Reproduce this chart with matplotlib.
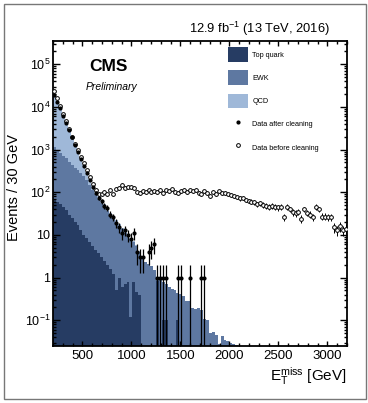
import numpy as np
import matplotlib.pyplot as plt
from matplotlib.patches import Patch, Rectangle
from matplotlib.lines import Line2D
from matplotlib.ticker import FixedLocator, LogLocator, FuncFormatter, MultipleLocator, NullFormatter

plt.rcParams['font.family'] = ['Liberation Sans', 'DejaVu Sans']
plt.rcParams['mathtext.fontset'] = 'custom'
plt.rcParams['mathtext.rm'] = 'Liberation Sans'
plt.rcParams['mathtext.it'] = 'Liberation Sans:italic'
plt.rcParams['mathtext.bf'] = 'Liberation Sans:bold'

# 30 GeV bins from 200 to 3200 GeV
edges = np.arange(200, 3201, 30)
nan = np.nan

# stacked backgrounds, read as the height of each stack layer
top_quark = [70, 60, 52, 45, 38, 30, 25, 20, 17, 13,
             10, 8.5, 7, 5.5, 4.5, 3.8, 3.0, 2.4, 2.0, 1.6,
             1.2, 0.5, 1.0, 0.6, 0.7, 0.8, 0.12, 0.8, 0.45, 0.4,
             0, 0, 0, 0, 0, 0.85, 0, 0.1, 0.1, 0,
             0, 0, 0.1] + [0] * 57
top_plus_ewk = [1120, 955, 830, 725, 630, 525, 447, 380, 331, 282,
                240, 190, 151, 115, 89, 71, 56, 46, 37, 30,
                24.5, 20, 16.6, 13.5, 11.2, 9.3, 7.9, 6.8, 5.6, 4.0,
                2.8, 2.3, 2.1, 1.9, 1.5, 1.0, 0.89, 0.79, 0.71, 0.60,
                0.55, 0.50, 0.44, 0.42, 0.38, 0.29, 0.28, 0.19, 0.18, 0.19,
                0.17, 0.11, 0.10, 0.05, 0.052, 0.045, 0.028, 0.044, 0.035, 0.033,
                0.030, 0.028, 0.026, 0.025] + [0] * 36
all_bkg = [17800, 12600, 8900, 6200, 4300, 2900, 1900, 1320, 890, 630,
           437, 302, 200, 141, 105, 81, 65, 52, 42, 33,
           27, 22, 17.8, 14.5, 12.0, 10.0, 8.3, 7.1, 5.9, 4.2,
           2.95] + top_plus_ewk[31:]

data_after = [19500, 13000, 9200, 6100, 4200, 2850, 1950, 1280, 900, 610,
              420, 290, 195, 130, 95, 75, 62, 48, 43, 30,
              26, 19, 15, 11, 13, 10, 8, 11, 4, 3,
              3, nan, 4, 5, 6, 1, 1, 1, 1, nan,
              nan, nan, 1, 1, nan, nan, 1, nan, nan, nan,
              1, 1] + [nan] * 48
data_before = [24000, 15800, 10500, 6900, 4600, 3000, 2000, 1380, 955, 676,
               479, 331, 229, 158, 115, 93, 91, 100, 91, 110,
               89, 120, 126, 151, 126, 132, 135, 126, 100, 95,
               107, 100, 110, 102, 107, 100, 112, 98, 110, 105,
               117, 100, 95, 107, 112, 102, 110, 105, 112, 98,
               91, 105, 95, 83, 100, 93, 105, 95, 98, 89,
               85, 83, 78, 72, 74, 66, 63, 60, 58, 52,
               56, 51, 48, 46, 48, 46, 44, 46, 26, 46,
               40, 34, 32, 35, 24, 40, 33, 30, 26, 45,
               40, 27, 27, 26, 26, 15, 13, 16, 13, 14]

c_top = '#263c63'
c_ewk = '#5e78a1'
c_qcd = '#9fb8d8'

fig = plt.figure(figsize=(3.68, 4.03), dpi=100)
ax = fig.add_axes([53 / 368, 57 / 403, 294 / 368, 305 / 403])

floor = 1e-3
for vals, col in [(all_bkg, c_qcd), (top_plus_ewk, c_ewk), (top_quark, c_top)]:
    v = np.maximum(np.array(vals, dtype=float), floor)
    ax.stairs(v, edges, fill=True, color=col, baseline=floor, lw=0, zorder=1)

centers = 0.5 * (edges[:-1] + edges[1:])
db = np.array(data_before, dtype=float)
ax.errorbar(centers, db, yerr=np.sqrt(db), fmt='o', ms=2.7, mfc='white', mec='black',
            mew=0.7, ecolor='black', elinewidth=0.7, capsize=0, zorder=3)
da = np.array(data_after, dtype=float)
err = np.sqrt(da)
lo = np.minimum(err, da - 1e-4)
ax.errorbar(centers, da, yerr=[lo, err], fmt='o', ms=2.0, color='black',
            ecolor='black', elinewidth=0.9, capsize=0, zorder=4)

ax.set_yscale('log')
ax.set_xlim(200, 3200)
ax.set_ylim(0.025, 3.5e5)

ax.xaxis.set_major_locator(FixedLocator([500, 1000, 1500, 2000, 2500, 3000]))
ax.xaxis.set_minor_locator(MultipleLocator(100))
ax.yaxis.set_major_locator(LogLocator(base=10, numticks=12))
ax.yaxis.set_minor_locator(LogLocator(base=10, subs=np.arange(2, 10), numticks=12))
ax.yaxis.set_minor_formatter(NullFormatter())


def yfmt(v, pos):
    e = int(round(np.log10(v)))
    if e == 0:
        return '1'
    if e == 1:
        return '10'
    return '$10^{%d}$' % e


ax.yaxis.set_major_formatter(FuncFormatter(yfmt))
ax.tick_params(which='both', direction='in', top=True, right=True, width=1.0)
ax.tick_params(axis='x', which='major', length=3.5, labelsize=9.5, pad=3)
ax.tick_params(axis='x', which='minor', length=2)
ax.tick_params(axis='y', which='major', length=5, labelsize=9, pad=2)
ax.tick_params(axis='y', which='minor', length=2.5)
for s in ax.spines.values():
    s.set_linewidth(1.3)

ax.text(0.19, 0.917, 'CMS', transform=ax.transAxes, ha='center', va='center',
        fontsize=12.5, fontweight='bold')
ax.text(0.198, 0.85, 'Preliminary', transform=ax.transAxes, ha='center', va='center',
        fontsize=7.5, style='italic')
fig.text(330 / 368, 1 - 33 / 403, '12.9 fb$^{-1}$ (13 TeV, 2016)', ha='right',
         va='baseline', fontsize=9.3)
fig.text(14 / 368, 1 - 188 / 403, 'Events / 30 GeV', rotation=90, ha='center',
         va='center', fontsize=10.5)
fig.text(347 / 368, 1 - 381 / 403, r'E$_\mathrm{T}^\mathrm{miss}$ [GeV]', ha='right',
         va='baseline', fontsize=11)

handles = [Patch(facecolor=c_top, edgecolor='none'),
           Patch(facecolor=c_ewk, edgecolor='none'),
           Patch(facecolor=c_qcd, edgecolor='none'),
           Line2D([], [], ls='none', marker='o', ms=2.0, color='black'),
           Line2D([], [], ls='none', marker='o', ms=2.7, mfc='white', mec='black', mew=0.7)]
labels = ['Top quark', 'EWK', 'QCD', 'Data after cleaning', 'Data before cleaning']
ax.legend(handles, labels, loc='upper left', bbox_to_anchor=(0.595, 0.98), frameon=False,
          fontsize=5.2, handlelength=2.8, handleheight=2.8, labelspacing=1.15,
          handletextpad=0.6, borderpad=0, borderaxespad=0)

fig.add_artist(Rectangle((3.5 / 368, 4 / 403), 362 / 368, 395 / 403,
                         transform=fig.transFigure, fill=False, ec='#777777', lw=1.0))

fig.savefig('out.png', dpi=100)
